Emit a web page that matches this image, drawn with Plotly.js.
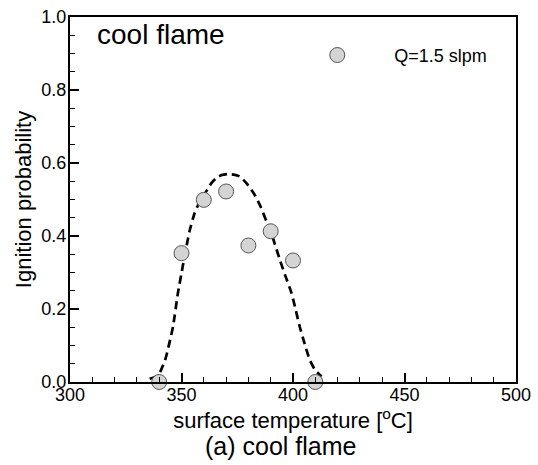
<!DOCTYPE html>
<html>
<head>
<meta charset="utf-8">
<script src="https://cdn.plot.ly/plotly-3.0.1.min.js"></script>
<style>html,body{margin:0;padding:0;background:#fff;}#chart{width:538px;height:465px;}</style>
</head>
<body>
<div id="chart"></div>
<script>
// Measured data: surface temperature [°C] vs ignition probability
var surfaceTemp = [340, 350, 360, 370, 380, 390, 400, 410];
var ignitionProb = [0.0, 0.353, 0.499, 0.522, 0.374, 0.413, 0.333, 0.0];

// Dashed fit curve
var fitTemp = [335.7, 339.4, 340.9, 342.7, 344.5, 346.2, 348.4, 350.0, 351.1, 353.6, 355.9, 358.0, 360.4, 363.4, 365.6, 368.0, 370.9, 373.5, 376.1, 379.1, 382.8, 385.5, 388.1, 390.0, 392.0, 394.1, 396.5, 399.3, 401.2, 403.0, 405.2, 407.5, 409.8, 412.8];
var fitProb = [0.009, 0.017, 0.034, 0.061, 0.105, 0.152, 0.244, 0.298, 0.335, 0.413, 0.463, 0.492, 0.515, 0.545, 0.559, 0.567, 0.570, 0.568, 0.563, 0.545, 0.513, 0.480, 0.440, 0.413, 0.375, 0.335, 0.292, 0.244, 0.198, 0.152, 0.105, 0.061, 0.034, 0.015];

var seriesName = 'Q=1.5 slpm';
var xTitle = 'surface temperature [<sup>o</sup>C]';
var yTitle = 'Ignition probability';
var panelLabel = 'cool flame';
var caption = '(a) cool flame';

var FONT = 'Liberation Sans, Arial, Helvetica, sans-serif';

var traces = [
  {
    x: fitTemp, y: fitProb, type: 'scatter', mode: 'lines',
    line: {color: '#000', width: 2.7, dash: '8px,5px', shape: 'spline', smoothing: 0.6},
    showlegend: false, hoverinfo: 'skip'
  },
  {
    x: surfaceTemp, y: ignitionProb, type: 'scatter', mode: 'markers',
    name: seriesName,
    marker: {size: 15, color: '#d4d4d4', line: {color: '#555', width: 1}},
    cliponaxis: false
  }
];

var layout = {
  width: 538, height: 465,
  margin: {l: 70, r: 22, t: 17, b: 83, pad: 0},
  paper_bgcolor: '#fff', plot_bgcolor: '#fff',
  font: {family: FONT, color: '#000', size: 18},
  showlegend: true,
  legend: {
    x: 0.4715, xanchor: 'left', y: 0.895, yanchor: 'middle',
    bgcolor: 'rgba(0,0,0,0)', borderwidth: 0,
    itemwidth: 104,
    font: {family: FONT, size: 18, color: '#000'}
  },
  xaxis: {
    range: [300, 500], tick0: 300, dtick: 50, tickmode: 'linear',
    ticks: 'inside', ticklen: 9, tickwidth: 2, tickcolor: '#000',
    ticklabelstandoff: -5,
    minor: {dtick: 10, tick0: 300, ticks: 'inside', ticklen: 5, tickwidth: 1, tickcolor: '#000', showgrid: false},
    showline: true, linecolor: '#000', linewidth: 2, mirror: true,
    showgrid: false, zeroline: false,
    automargin: false,
    tickfont: {family: FONT, size: 18, color: '#000'},
    title: {text: xTitle, standoff: 0, font: {family: FONT, size: 22, color: '#000'}}
  },
  yaxis: {
    range: [0, 1], tick0: 0, dtick: 0.2, tickmode: 'linear', tickformat: '.1f',
    ticks: 'inside', ticklen: 9, tickwidth: 2, tickcolor: '#000',
    ticklabelstandoff: -2,
    minor: {dtick: 0.05, tick0: 0, ticks: 'inside', ticklen: 5, tickwidth: 1, tickcolor: '#000', showgrid: false},
    showline: true, linecolor: '#000', linewidth: 2, mirror: true,
    showgrid: false, zeroline: false,
    automargin: false,
    tickfont: {family: FONT, size: 18, color: '#000'},
    title: {text: yTitle, standoff: 4, font: {family: FONT, size: 22, color: '#000'}}
  },
  annotations: [
    {text: panelLabel, xref: 'paper', yref: 'paper', x: 0.057, y: 0.951,
     xanchor: 'left', yanchor: 'middle', showarrow: false,
     font: {family: FONT, size: 28, color: '#000'}},
    {text: caption, xref: 'paper', yref: 'paper', x: 0.472, y: -0.1745,
     xanchor: 'center', yanchor: 'middle', showarrow: false,
     font: {family: FONT, size: 25, color: '#000'}}
  ]
};

Plotly.newPlot('chart', traces, layout, {displayModeBar: false, staticPlot: true});
</script>
</body>
</html>
